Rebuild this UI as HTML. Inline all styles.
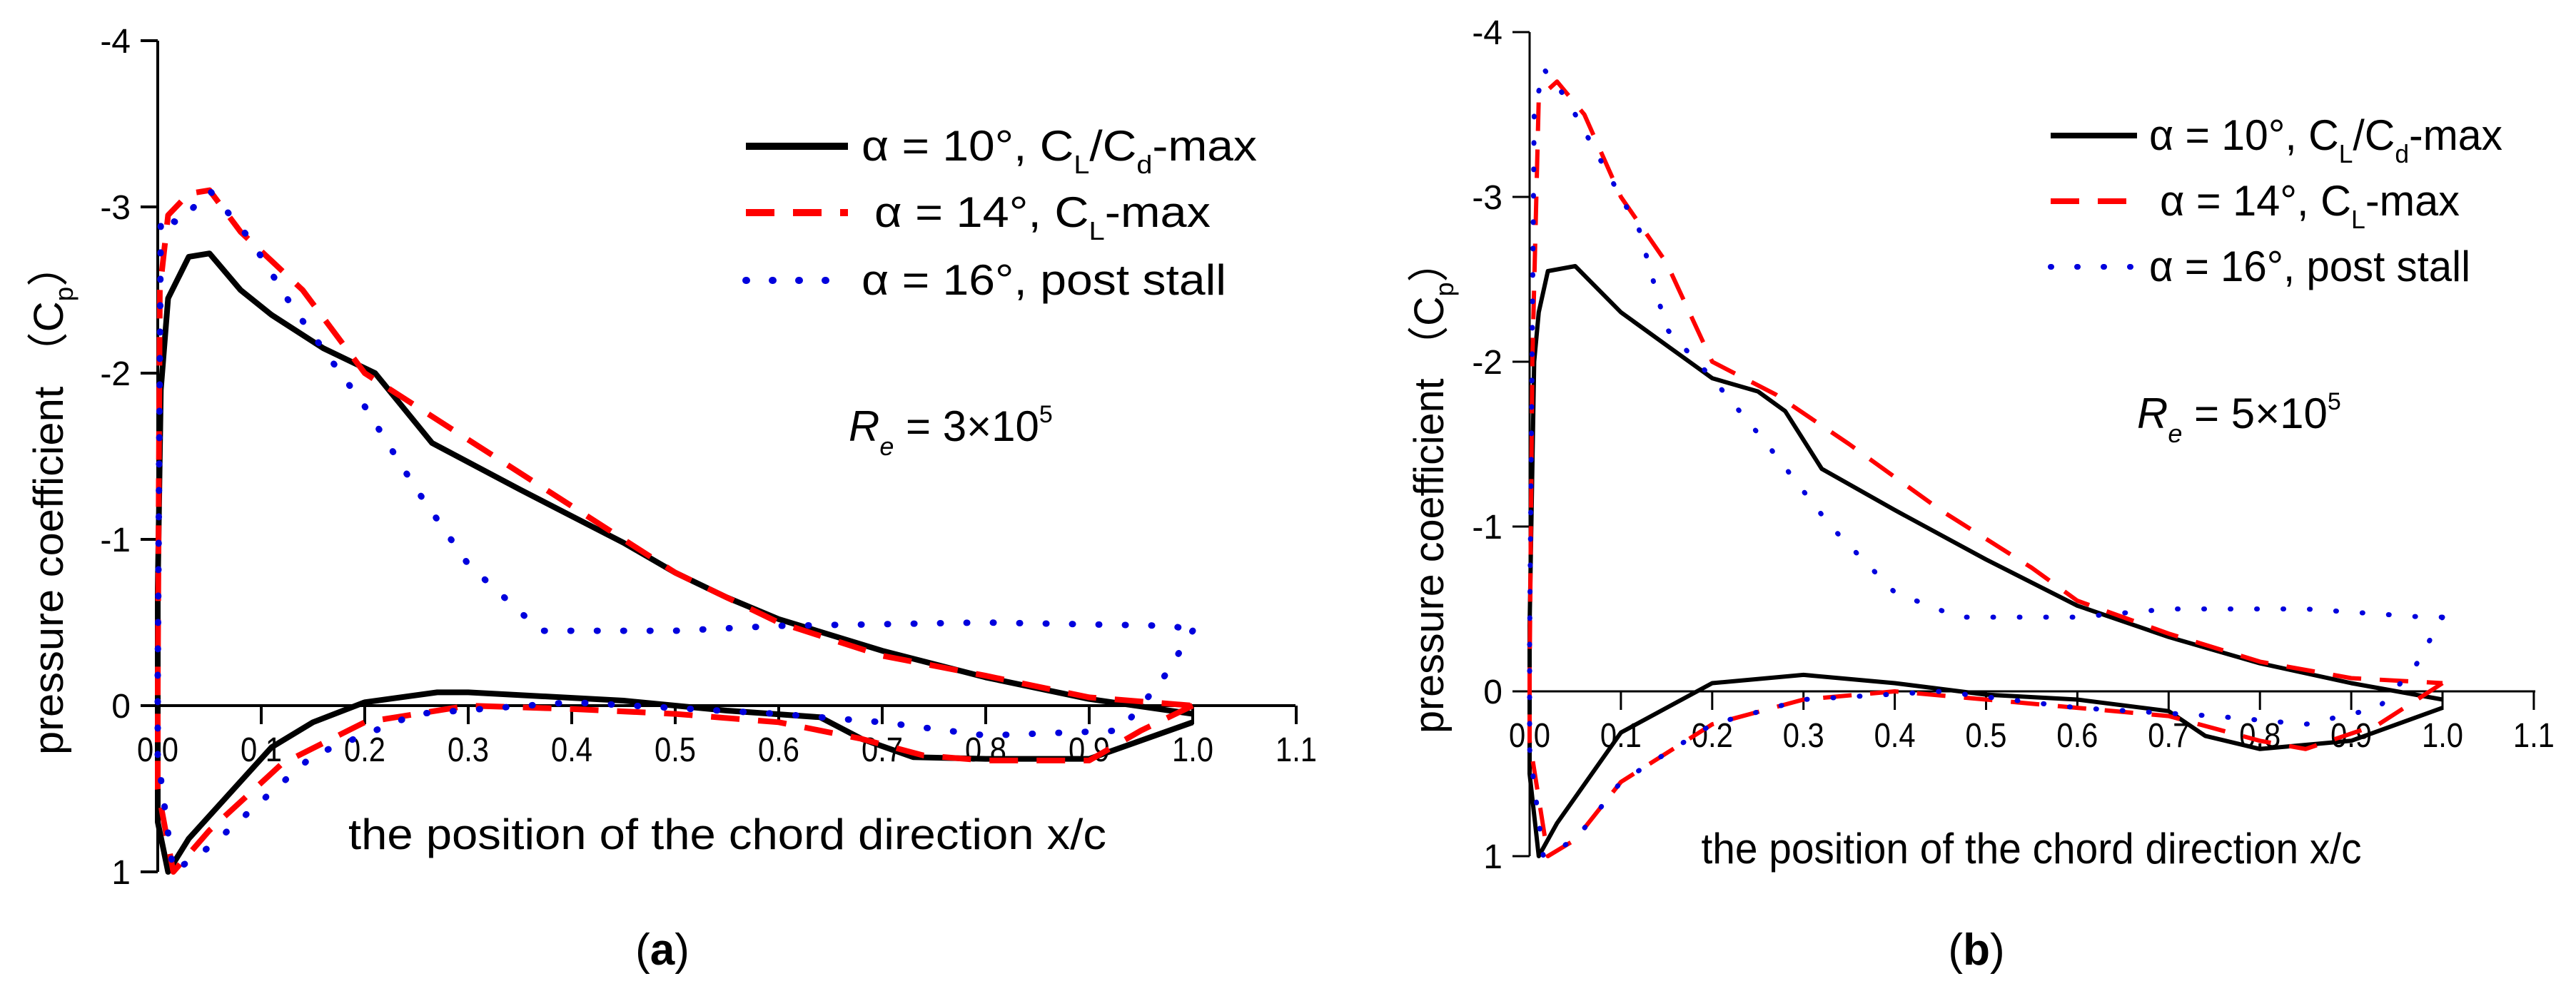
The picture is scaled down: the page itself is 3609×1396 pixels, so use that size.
<!DOCTYPE html>
<html><head><meta charset="utf-8"><style>
html,body{margin:0;padding:0;background:#fff;}
svg{display:block;}
text{font-family:"Liberation Sans",sans-serif;fill:#000;}
</style></head>
<body>
<svg id="fig" width="3609" height="1396" viewBox="0 0 3609 1396" xmlns="http://www.w3.org/2000/svg"></svg>
<script>
// ---- data (x/c, Cp) ----
const xTicks = ["0.0","0.1","0.2","0.3","0.4","0.5","0.6","0.7","0.8","0.9","1.0","1.1"];
const yTicks = [-4,-3,-2,-1,0,1];
// Panel a
const aBlackX = [1.0,0.9,0.8,0.73,0.68,0.64,0.55,0.45,0.3,0.27,0.2,0.15,0.11,0.03,0.01,0.0,0.0,0.003,0.01,0.03,0.05,0.08,0.11,0.16,0.21,0.265,0.35,0.45,0.5,0.55,0.6,0.7,0.8,0.9,1.0];
const aBlackY = [0.1,0.32,0.32,0.31,0.2,0.07,0.03,-0.03,-0.08,-0.08,-0.02,0.1,0.25,0.8,1.0,0.7,-0.7,-1.9,-2.45,-2.7,-2.72,-2.5,-2.35,-2.15,-2.0,-1.58,-1.3,-0.98,-0.8,-0.65,-0.52,-0.33,-0.17,-0.04,0.05];
const aRedX = [1.0,0.95,0.9,0.8,0.74,0.68,0.6,0.5,0.4,0.3,0.2,0.12,0.05,0.015,0.0,0.0,0.002,0.01,0.03,0.05,0.08,0.14,0.2,0.3,0.4,0.5,0.6,0.7,0.8,0.9,1.0];
const aRedY = [0.0,0.15,0.33,0.33,0.3,0.2,0.1,0.05,0.02,0.0,0.1,0.35,0.75,1.0,0.5,-0.1,-2.5,-2.95,-3.08,-3.1,-2.85,-2.5,-2.0,-1.6,-1.2,-0.8,-0.5,-0.3,-0.18,-0.05,0.0];
const aBlueX = [1.0,0.97,0.93,0.8,0.7,0.6,0.4,0.25,0.15,0.05,0.015,0.0,0.0,0.003,0.02,0.05,0.09,0.13,0.2,0.25,0.3,0.37,0.5,0.6,0.8,0.98,1.0];
const aBlueY = [-0.45,-0.15,0.15,0.18,0.1,0.05,-0.02,0.05,0.3,0.85,1.0,0.3,-0.2,-2.95,-2.9,-3.1,-2.8,-2.4,-1.8,-1.3,-0.85,-0.45,-0.45,-0.48,-0.5,-0.48,-0.45];
// Panel b
const bBlackX = [1.0,0.9,0.8,0.74,0.7,0.6,0.5,0.4,0.3,0.2,0.15,0.1,0.03,0.01,0.0,0.0,0.005,0.01,0.02,0.05,0.1,0.15,0.2,0.25,0.28,0.32,0.4,0.5,0.6,0.7,0.8,0.9,1.0];
const bBlackY = [0.1,0.3,0.35,0.27,0.12,0.05,0.02,-0.05,-0.1,-0.05,0.1,0.25,0.8,1.0,0.5,-0.4,-2.0,-2.3,-2.55,-2.58,-2.3,-2.1,-1.9,-1.82,-1.7,-1.35,-1.1,-0.8,-0.52,-0.33,-0.17,-0.05,0.05];
const bRedX = [1.0,0.93,0.85,0.8,0.7,0.6,0.5,0.4,0.3,0.2,0.1,0.05,0.02,0.0,0.0,0.003,0.01,0.03,0.06,0.1,0.15,0.2,0.27,0.35,0.45,0.55,0.6,0.7,0.8,0.9,1.0];
const bRedY = [-0.05,0.2,0.35,0.3,0.15,0.1,0.05,0.0,0.05,0.2,0.55,0.9,1.0,0.3,-0.1,-2.0,-3.6,-3.7,-3.5,-3.0,-2.6,-2.0,-1.8,-1.5,-1.1,-0.75,-0.55,-0.35,-0.18,-0.08,-0.05];
const bBlueX = [1.0,0.97,0.93,0.85,0.75,0.6,0.45,0.3,0.2,0.1,0.05,0.015,0.0,0.0,0.005,0.015,0.04,0.08,0.12,0.15,0.2,0.26,0.33,0.4,0.47,0.6,0.7,0.85,0.98,1.0];
const bBlueY = [-0.45,-0.15,0.1,0.2,0.15,0.1,0.0,0.05,0.2,0.55,0.9,1.0,0.35,-0.3,-3.5,-3.78,-3.6,-3.2,-2.8,-2.2,-1.9,-1.5,-1.0,-0.6,-0.45,-0.45,-0.5,-0.5,-0.45,-0.45];
const legendLabels = ["α = 10°,  C", "α = 14°,  C", "α = 16°,  post stall"];

const NS = "http://www.w3.org/2000/svg";
const svg = document.getElementById("fig");
function el(tag, attrs, parent, txt){
  const e = document.createElementNS(NS, tag);
  for (const k in attrs) e.setAttribute(k, attrs[k]);
  if (txt !== undefined) e.textContent = txt;
  (parent || svg).appendChild(e);
  return e;
}

const panels = [
  {id:"a", x0:221, xStep:145, y0:989, yUnit:233, lw:8, aw:4, axisEnd:1815,
   series:[[aBlackX,aBlackY],[aRedX,aRedY],[aBlueX,aBlueY]],
   legX1:1045, legX2:1188, legTx:1207, legRows:[225,318,413], legLens:[554,471,511], legShift:[0,18,0],
   re:[1189,618,"3"], xt:[1019,1190,1062], yl:[88,700,716], cap:[928,1352]},
  {id:"b", x0:2143, xStep:127.9, y0:969, yUnit:231, lw:6, aw:3, axisEnd:3552,
   series:[[bBlackX,bBlackY],[bRedX,bRedY],[bBlueX,bBlueY]],
   legX1:2873, legX2:2994, legTx:3011, legRows:[210,302,394], legLens:[495,420,450], legShift:[0,15,0],
   re:[2994,600,"5"], xt:[2846,1210,925], yl:[2022,683,690], cap:[2769,1352]}
];
const styles = [
  {c:"#000", dash:null, name:"alpha-10-line"},
  {c:"#ff0000", dash:"40 26", name:"alpha-14-line"},
  {c:"#0000dd", dash:"1 36", name:"alpha-16-line"}
];

panels.forEach(p => {
  const g = el("g", {});
  
  
  const sx = v => p.x0 + v * p.xStep * 10;
  const sy = v => p.y0 + v * p.yUnit;
  // y axis
  const ya = el("line", {x1:p.x0, y1:sy(-4), x2:p.x0, y2:sy(1), stroke:"#000", "stroke-width":p.aw}, g);
  
  
  yTicks.forEach(t => {
    const tk = el("line", {x1:p.x0-24, y1:sy(t), x2:p.x0, y2:sy(t), stroke:"#000", "stroke-width":p.aw}, g);
    
    
    const lb = el("text", {x:p.x0-38, y:sy(t)+17, "text-anchor":"end", "font-size":48}, g, t < 0 ? "-" + Math.abs(t) : String(t));
    
    
  });
  // x axis at Cp=0
  const xa = el("line", {x1:p.x0, y1:sy(0), x2:p.axisEnd, y2:sy(0), stroke:"#000", "stroke-width":p.aw}, g);
  
  
  xTicks.forEach((t, i) => {
    const x = sx(i * 0.1);
    const tk = el("line", {x1:x, y1:sy(0), x2:x, y2:sy(0)+26, stroke:"#000", "stroke-width":p.aw}, g);
    
    
    const lb = el("text", {x:x, y:sy(0)+78, "text-anchor":"middle", "font-size":48, textLength:58, lengthAdjust:"spacingAndGlyphs"}, g, t);
    
    
  });
  // series
  p.series.forEach((s, k) => {
    const st = styles[k];
    const d = s[0].map((x, i) => (i ? "L" : "M") + sx(x).toFixed(1) + " " + sy(s[1][i]).toFixed(1)).join(" ");
    const attrs = {d:d, fill:"none", stroke:st.c, "stroke-width":p.lw + (k==2?1:0), "stroke-linejoin":"round", "stroke-linecap": k==2 ? "round" : "butt"};
    if (st.dash) attrs["stroke-dasharray"] = st.dash;
    const path = el("path", attrs, g);
    
    
  });
  // legend
  p.legRows.forEach((y, k) => {
    const st = styles[k];
    const ly = y - 20;
    const la = {x1:p.legX1, y1:ly, x2:p.legX2, y2:ly, stroke:st.c, "stroke-width":p.lw + 2, "stroke-linecap": k==2 ? "round" : "butt"};
    if (st.dash) la["stroke-dasharray"] = st.dash;
    const ln = el("line", la, g);
    
    
    const tx = el("text", {x:p.legTx + p.legShift[k], y:y, "font-size":60, textLength:p.legLens[k], lengthAdjust:"spacingAndGlyphs"}, g);
    
    
    if (k == 0) {
      tx.appendChild(document.createTextNode("α = 10°,  C"));
      el("tspan", {dy:18, "font-size":36}, tx, "L");
      el("tspan", {dy:-18}, tx, "/C");
      el("tspan", {dy:18, "font-size":36}, tx, "d");
      el("tspan", {dy:-18}, tx, "-max");
    } else if (k == 1) {
      tx.appendChild(document.createTextNode("α = 14°,  C"));
      el("tspan", {dy:18, "font-size":36}, tx, "L");
      el("tspan", {dy:-18}, tx, "-max");
    } else {
      tx.textContent = legendLabels[2];
    }
  });
  // Reynolds annotation
  const re = el("text", {x:p.re[0], y:p.re[1], "font-size":60}, g);
  
  
  el("tspan", {"font-style":"italic"}, re, "R");
  el("tspan", {dy:20, "font-size":36, "font-style":"italic"}, re, "e");
  el("tspan", {dy:-20}, re, " = " + p.re[2] + "×10");
  el("tspan", {dy:-26, "font-size":34}, re, "5");
  // x title
  const xt = el("text", {x:p.xt[0], y:p.xt[1], "text-anchor":"middle", "font-size":60, textLength:p.xt[2], lengthAdjust:"spacingAndGlyphs"}, g,
    p.id == "a" ? "the position of  the chord direction  x/c" : "the position of the chord direction  x/c");
  
  
  // y title
  const yt = el("text", {x:0, y:0, transform:"translate(" + p.yl[0] + "," + p.yl[1] + ") rotate(-90)", "text-anchor":"middle", "font-size":58, textLength:p.yl[2], lengthAdjust:"spacingAndGlyphs"}, g);
  
  
  yt.appendChild(document.createTextNode("pressure coefficient  （C"));
  el("tspan", {dy:14, "font-size":36}, yt, "p");
  el("tspan", {dy:-14}, yt, "）");
  // caption
  const cap = el("text", {x:p.cap[0], y:p.cap[1], "text-anchor":"middle", "font-size":62, "font-family":"Liberation Serif, serif"}, g);
  
  
  cap.appendChild(document.createTextNode("("));
  el("tspan", {"font-weight":"bold"}, cap, p.id);
  cap.appendChild(document.createTextNode(")"));
});
</script>
</body></html>
